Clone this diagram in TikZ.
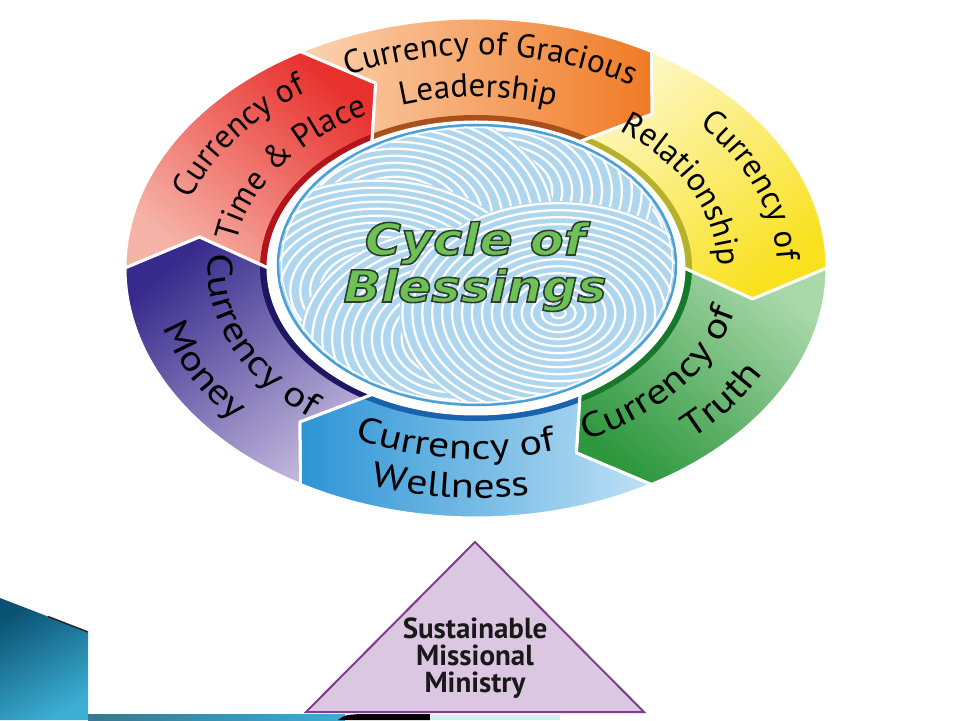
\documentclass[tikz,border=0pt]{standalone}
\usepackage{fontspec}
\usepackage{xcolor}
\usepackage{tikz}
\usetikzlibrary{decorations.text}
\setmainfont{PT Sans}
\newfontfamily\botface[FakeStretch=1.2]{PT Sans}
\newfontfamily\blessfont[FakeStretch=1.12]{DejaVu Sans}
\newfontfamily\trifont{PT Sans}

\definecolor{redL}{HTML}{F6B3A8}
\definecolor{redD}{HTML}{E8302D}
\definecolor{redB}{HTML}{B3141C}
\definecolor{orgL}{HTML}{FBD3B2}
\definecolor{orgD}{HTML}{F07A24}
\definecolor{orgB}{HTML}{A9501C}
\definecolor{yelL}{HTML}{FDF7C4}
\definecolor{yelD}{HTML}{F9E11E}
\definecolor{yelB}{HTML}{B5B12A}
\definecolor{grnL}{HTML}{A9D8A9}
\definecolor{grnD}{HTML}{2F983F}
\definecolor{grnB}{HTML}{15782B}
\definecolor{bluL}{HTML}{BFE1F6}
\definecolor{bluD}{HTML}{2C94D5}
\definecolor{bluB}{HTML}{1862AE}
\definecolor{purL}{HTML}{C2B8DD}
\definecolor{purD}{HTML}{372A8C}
\definecolor{purB}{HTML}{1D1762}
\definecolor{discFill}{HTML}{AFD6EF}
\definecolor{discEdge}{HTML}{4A9FD6}
\definecolor{blessGreen}{HTML}{6EC255}
\definecolor{triFill}{HTML}{DCC7E2}
\definecolor{triEdge}{HTML}{7E3F8A}
\definecolor{tealD}{HTML}{0B5373}
\definecolor{tealL}{HTML}{3BAED3}
\definecolor{barPale}{HTML}{D5EEF4}

\newcommand{\segfont}{\fontsize{33}{33}\selectfont}
\newcommand{\botfont}{\botface\fontsize{35}{35}\selectfont}
\newcommand{\segpath}[1]{({#1}:351pt and 250pt) arc[start angle={#1}, end angle={#1-60}, x radius=351pt, y radius=250pt] -- ({#1-69}:280pt and 198pt) -- ({#1-60}:208pt and 146pt) arc[start angle={#1-60}, end angle={#1}, x radius=208pt, y radius=146pt] -- ({#1-9}:280pt and 198pt) -- cycle}
\newcommand{\toplabel}[4]{\path[decorate, decoration={text along path, text align=center, text={|\segfont|#4}}] ({#1+35}:#2 and #3) arc[start angle={#1+35}, end angle={#1-35}, x radius=#2, y radius=#3];}
\newcommand{\botlabel}[4]{\path[decorate, decoration={text along path, text align=center, text={|\botfont|#4}}] ({#1-35}:#2 and #3) arc[start angle={#1-35}, end angle={#1+35}, x radius=#2, y radius=#3];}
\newcommand{\outlinetext}[1]{\special{pdf:literal direct 2 Tr 1.6 w 0.18 0.24 0.18 RG}#1\special{pdf:literal direct 0 Tr}}

\begin{document}
\begin{tikzpicture}[x=1pt, y=1pt]
  % Estilos
  \tikzstyle{bendicion}=[font=\blessfont\bfseries\itshape\fontsize{44}{44}\selectfont, text=blessGreen, inner sep=0pt, anchor=base]
  \tikzstyle{ministerio}=[font=\trifont\bfseries\fontsize{29}{27}\selectfont, align=center, text=black!90]

  \useasboundingbox (0,0) rectangle (960,720);
  \fill[white] (0,0) rectangle (960,720);

  % Segmentos de la rueda
  \begin{scope}[shift={(476,452)}]
    \foreach \b/\lc/\dc/\bc/\sa in {180/redL/redD/redB/-39, 120/orgL/orgD/orgB/-90, 60/yelL/yelD/yelB/-141, 0/grnL/grnD/grnB/141, -60/bluL/bluD/bluB/90, -120/purL/purD/purB/39}{
      \shade[bottom color=\lc, top color=\dc, shading angle=\sa] \segpath{\b};
      \begin{scope}
        \clip \segpath{\b};
        \fill[\bc] ({\b+5}:216pt and 153pt) arc[start angle=\b+5, end angle=\b-65, x radius=216pt, y radius=153pt] -- ({\b-65}:207pt and 145pt) arc[start angle=\b-65, end angle=\b+5, x radius=207pt, y radius=145pt] -- cycle;
      \end{scope}
      \draw[white, line width=3pt, line join=round] \segpath{\b};
    }

    % Etiquetas de los segmentos
    \toplabel{145}{301pt}{213pt}{Currency of}
    \toplabel{145}{242pt}{171pt}{Time {\&} Place}
    \toplabel{87}{301pt}{213pt}{Currency of Gracious}
    \toplabel{89.5}{242pt}{171pt}{Leadership}
    \toplabel{20.5}{301pt}{213pt}{Currency of}
    \toplabel{26}{242pt}{171pt}{Relationship}
    \botlabel{-38}{266pt}{189pt}{Currency of}
    \botlabel{-35}{323pt}{229pt}{Truth}
    \botlabel{-95}{268pt}{191pt}{Currency of}
    \botlabel{-95}{324pt}{230pt}{Wellness}
    \botlabel{-157}{268pt}{191pt}{Currency of}
    \botlabel{-154}{324pt}{230pt}{Money}
  \end{scope}

  % Disco central
  \begin{scope}[shift={(477,455)}]
    \begin{scope}
      \clip (0,0) ellipse[x radius=199pt, y radius=140pt];
      \fill[discFill] (-200,-141) rectangle (200,141);
      \begin{scope}[xscale=1.42]
        \foreach \k in {0,...,5}{
          \fill[discFill] ({60*\k+20}:75pt) circle[radius=112pt];
          \foreach \r in {5,12,...,110}
            \draw[white, line width=2.3pt] ({60*\k+20}:75pt) circle[radius=\r pt];
        }
      \end{scope}
    \end{scope}
    \draw[white, line width=1.4pt] (0,0) ellipse[x radius=195.5pt, y radius=137.5pt];
    \draw[discEdge, line width=2.4pt] (0,0) ellipse[x radius=199pt, y radius=140pt];
  \end{scope}

  \node[bendicion] (cycle) at (475,465) {\outlinetext{Cycle of}};
  \node[bendicion] (blessings) at (475,418) {\outlinetext{Blessings}};

  % Triangulo
  \coordinate (apex) at (475,178);
  \coordinate (baseL) at (306,8);
  \coordinate (baseR) at (644,8);
  \filldraw[fill=triFill, draw=triEdge, line width=2pt] (baseL) -- (apex) -- (baseR) -- cycle;
  \node[ministerio] (ministry) at (475,62) {Sustainable\\Missional\\Ministry};

  % Adorno de la diapositiva
  \shade[top color=tealD, bottom color=tealL, shading angle=30] (0,0) -- (0,122) -- (88,88) -- (88,0) -- cycle;
  \draw[black!85, line width=1.5pt] (48,103.5) -- (88,88);
  \shade[left color=tealD!80, right color=tealL] (88,0) rectangle (345,6);
  \fill[black] (338,0) .. controls (345,5) .. (360,6) -- (430,6) -- (430,0) -- cycle;
  \fill[barPale] (430,0) rectangle (560,5);
\end{tikzpicture}
\end{document}
